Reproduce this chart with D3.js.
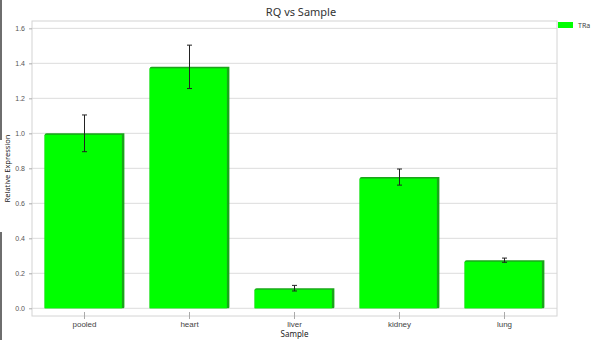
<!DOCTYPE html>
<html>
<head>
<meta charset="utf-8">
<script src="https://cdn.jsdelivr.net/npm/d3@7"></script>
<style>
  body { margin: 0; background: #fff; }
  svg { display: block; font-family: "Noto Sans", "DejaVu Sans", sans-serif; }
</style>
</head>
<body>
<div id="chart"></div>
<script>
const samples = ["pooled", "heart", "liver", "kidney", "lung"];
const rq = [1.0, 1.38, 0.115, 0.75, 0.275];
const rqErr = [0.105, 0.124, 0.016, 0.046, 0.012];
const yTicks = [0.0, 0.2, 0.4, 0.6, 0.8, 1.0, 1.2, 1.4, 1.6];
const seriesName = "TRa";

(() => {
    const width = 595, height = 340;
    const plot = { left: 32, right: 557, top: 21, bottom: 316 };

    const svg = d3.select("#chart").append("svg")
        .attr("width", width)
        .attr("height", height);

    // window edge on the left
    svg.append("rect").attr("x", 0).attr("y", 0).attr("width", 2).attr("height", 140).attr("fill", "#6e6e6e");
    svg.append("rect").attr("x", 0).attr("y", 232).attr("width", 2).attr("height", 108).attr("fill", "#6e6e6e");

    const x = d3.scaleBand()
        .domain(samples)
        .range([plot.left, plot.right])
        .paddingInner(0.24)
        .paddingOuter(0.12);

    const y = d3.scaleLinear()
        .domain([-0.044, 1.642])
        .range([plot.bottom, plot.top]);

    // grid
    svg.append("g").selectAll("line")
        .data(yTicks)
        .join("line")
        .attr("x1", plot.left).attr("x2", plot.right)
        .attr("y1", d => y(d)).attr("y2", d => y(d))
        .attr("stroke", "#dcdcdc")
        .attr("stroke-width", 1);

    svg.append("rect")
        .attr("x", plot.left).attr("y", plot.top)
        .attr("width", plot.right - plot.left).attr("height", plot.bottom - plot.top)
        .attr("fill", "none")
        .attr("stroke", "#d4d4d4");

    // y axis
    const yAxis = svg.append("g")
        .attr("transform", `translate(${plot.left},0)`)
        .call(d3.axisLeft(y).tickValues(yTicks).tickFormat(d3.format(".1f")).tickSize(3).tickPadding(4));
    yAxis.select(".domain").remove();
    yAxis.selectAll("line").attr("stroke", "#aaa");
    yAxis.selectAll("text").attr("fill", "#555").style("font-size", "7px");

    // x axis
    const xAxis = svg.append("g")
        .attr("transform", `translate(0,${plot.bottom})`)
        .call(d3.axisBottom(x).tickSize(3).tickPadding(2));
    xAxis.select(".domain").remove();
    xAxis.selectAll("line").attr("stroke", "#aaa").attr("y1", -4);
    xAxis.selectAll("text").attr("fill", "#444").style("font-size", "8px");

    const data = samples.map((s, i) => ({ s, v: rq[i], e: rqErr[i] }));
    const bw = x.bandwidth();

    const bars = svg.append("g").selectAll("g")
        .data(data)
        .join("g");

    // darker edge (top and right)
    bars.append("path")
        .attr("fill", "#1aa51a")
        .attr("d", d => {
            const x0 = x(d.s), x1 = x0 + bw, y0 = y(d.v), y1 = y(0);
            return `M${x0},${y1}L${x0},${y0 + 2}Q${x0},${y0} ${x0 + 2},${y0}L${x1},${y0}L${x1},${y1 - 1}Q${x1},${y1} ${x1 - 1},${y1}Z`;
        });
    bars.append("rect")
        .attr("x", d => x(d.s))
        .attr("y", d => y(d.v) + 1.5)
        .attr("width", bw - 2.5)
        .attr("height", d => y(0) - y(d.v) - 1.5)
        .attr("fill", "#00ff00");

    // error bars
    const err = svg.append("g").attr("stroke", "#222").attr("stroke-width", 1);
    err.selectAll(".v").data(data).join("line")
        .attr("x1", d => x(d.s) + bw / 2).attr("x2", d => x(d.s) + bw / 2)
        .attr("y1", d => y(d.v + d.e)).attr("y2", d => y(d.v - d.e));
    err.selectAll(".t").data(data).join("line")
        .attr("x1", d => x(d.s) + bw / 2 - 2.5).attr("x2", d => x(d.s) + bw / 2 + 2.5)
        .attr("y1", d => y(d.v + d.e)).attr("y2", d => y(d.v + d.e));
    err.selectAll(".b").data(data).join("line")
        .attr("x1", d => x(d.s) + bw / 2 - 2.5).attr("x2", d => x(d.s) + bw / 2 + 2.5)
        .attr("y1", d => y(d.v - d.e)).attr("y2", d => y(d.v - d.e));

    // title and axis labels
    svg.append("text")
        .attr("x", 301).attr("y", 16)
        .attr("text-anchor", "middle")
        .attr("fill", "#333")
        .style("font-size", "11px")
        .text("RQ vs Sample");

    svg.append("text")
        .attr("x", (plot.left + plot.right) / 2).attr("y", 337)
        .attr("text-anchor", "middle")
        .attr("fill", "#222")
        .style("font-size", "8px")
        .text("Sample");

    svg.append("text")
        .attr("transform", `translate(10,${(plot.top + plot.bottom) / 2}) rotate(-90)`)
        .attr("text-anchor", "middle")
        .attr("fill", "#222")
        .style("font-size", "7.5px")
        .text("Relative Expression");

    // legend
    svg.append("rect")
        .attr("x", 558).attr("y", 22)
        .attr("width", 15).attr("height", 6)
        .attr("fill", "#00ff00");
    svg.append("text")
        .attr("x", 578).attr("y", 27.5)
        .attr("fill", "#444")
        .style("font-size", "7px")
        .text(seriesName);
})();
</script>
</body>
</html>
